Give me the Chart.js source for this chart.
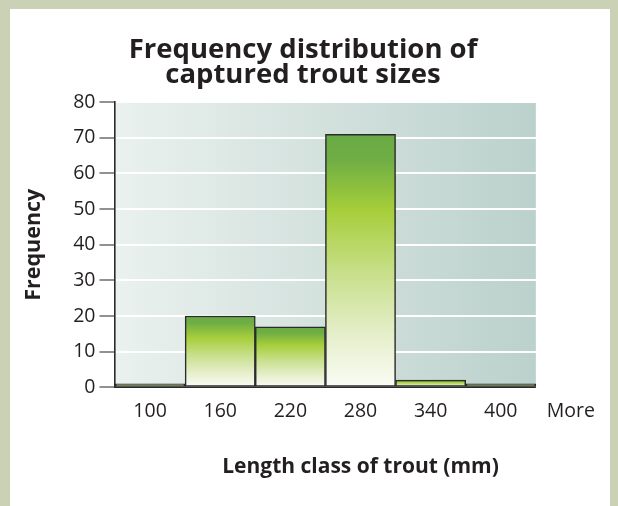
<!DOCTYPE html>
<html>
<head>
<meta charset="utf-8">
<script src="https://cdn.jsdelivr.net/npm/chart.js@4.4.1/dist/chart.umd.min.js"></script>
<style>
  html, body { margin: 0; padding: 0; }
  body { width: 618px; height: 506px; background: #cbd1b5; position: relative; overflow: hidden; }
  #inner { position: absolute; left: 10px; top: 9px; width: 600px; height: 497px; background: #ffffff; }
  #wrap { position: absolute; left: 0; top: 0; width: 618px; height: 506px; }
</style>
</head>
<body>
<div id="inner"></div>
<div id="wrap"><canvas id="c" width="618" height="506"></canvas></div>
<script>
// ---- data ----
const categories = ['100', '160', '220', '280', '340', '400', 'More'];
const frequencies = [1, 20, 17, 71, 2, 1, 0];
const yTicks = [0, 10, 20, 30, 40, 50, 60, 70, 80];
const chartTitle = ['Frequency distribution of', 'captured trout sizes'];
const xTitle = 'Length class of trout (mm)';
const yTitle = 'Frequency';

const TEXT = '#231f20';
const FONT = "'Open Sans', 'Noto Sans', sans-serif";

// number of categories covered by the shaded plot panel (excludes "More")
const panelCats = 6;

function panelRight(chart) {
  const x = chart.scales.x;
  const step = x.getPixelForValue(1) - x.getPixelForValue(0);
  return x.getPixelForValue(panelCats - 1) + step / 2;
}

const panelPlugin = {
  id: 'panel',
  beforeDraw(chart) {
    const { ctx, chartArea: a } = chart;
    const r = panelRight(chart);
    const g = ctx.createLinearGradient(a.left, 0, r, 0);
    g.addColorStop(0, '#eaf1ef');
    g.addColorStop(0.5, '#d3e1dd');
    g.addColorStop(1, '#bbd1cc');
    ctx.save();
    ctx.fillStyle = g;
    ctx.fillRect(a.left, a.top, r - a.left, a.bottom - a.top);
    ctx.restore();
  },
  afterDatasetsDraw(chart) {
    const { ctx, chartArea: a } = chart;
    const r = panelRight(chart);
    const y0 = chart.scales.y.getPixelForValue(0);
    ctx.save();
    ctx.strokeStyle = '#2a2a2a';
    ctx.lineWidth = 1.6;
    ctx.beginPath();
    ctx.moveTo(a.left, y0);
    ctx.lineTo(r, y0);
    ctx.stroke();
    ctx.restore();
  }
};

function barGradient(context) {
  const chart = context.chart;
  const a = chart.chartArea;
  if (!a) return '#a6ce3a';
  const v = context.raw || 0;
  if (!v) return 'rgba(0,0,0,0)';
  const ys = chart.scales.y;
  const top = ys.getPixelForValue(v);
  const bottom = ys.getPixelForValue(0);
  if (bottom - top < 1) return '#6b9a35';
  const g = chart.ctx.createLinearGradient(0, top, 0, bottom);
  g.addColorStop(0, '#69aa45');
  g.addColorStop(0.1, '#6fae44');
  g.addColorStop(0.3, '#a6ce3a');
  g.addColorStop(0.56, '#c9e08e');
  g.addColorStop(0.8, '#e6efcc');
  g.addColorStop(1, '#fafcf5');
  return g;
}

new Chart(document.getElementById('c'), {
  type: 'bar',
  data: {
    labels: categories,
    datasets: [{
      data: frequencies,
      backgroundColor: barGradient,
      borderColor: (ctx) => (ctx.raw ? '#2b2b2b' : 'rgba(0,0,0,0)'),
      borderWidth: (ctx) => (ctx.raw ? 1.5 : 0),
      borderSkipped: false,
      barPercentage: 1,
      categoryPercentage: 1
    }]
  },
  options: {
    responsive: false,
    animation: false,
    events: [],
    layout: { padding: { left: 0, right: 12, top: 0, bottom: 0 } },
    plugins: {
      legend: { display: false },
      tooltip: { enabled: false },
      title: {
        display: true,
        text: chartTitle,
        color: TEXT,
        font: { family: FONT, size: 27.5, weight: '700', lineHeight: 0.93 },
        padding: { top: 37, bottom: 14 }
      }
    },
    scales: {
      x: {
        type: 'category',
        grid: { display: false, drawTicks: false },
        border: { display: false },
        ticks: { color: TEXT, font: { family: FONT, size: 19.5 }, padding: 12, maxRotation: 0, autoSkip: false },
        title: {
          display: true, text: xTitle, color: TEXT,
          font: { family: FONT, size: 21, weight: '700', lineHeight: 1.2 },
          padding: { top: 0, bottom: 26 }
        },
        afterFit(s) { s.height = 506 - 387.3; }
      },
      y: {
        min: 0, max: 80,
        afterBuildTicks(s) { s.ticks = yTicks.map(v => ({ value: v })); },
        grid: {
          color: (ctx) => (ctx.tick && ctx.tick.value === 0 ? 'rgba(0,0,0,0)' : '#ffffff'),
          lineWidth: 2,
          drawTicks: true, tickLength: 15.5, tickColor: '#555555', tickWidth: 1.3
        },
        border: { display: true, color: '#2a2a2a', width: 1.6 },
        ticks: { color: TEXT, font: { family: FONT, size: 19.5 }, padding: 4 },
        title: {
          display: true, text: yTitle, color: TEXT,
          font: { family: FONT, size: 21.5, weight: '700', lineHeight: 1.2 },
          padding: { top: 21, bottom: 0 }
        },
        afterFit(s) { s.width = 115; }
      }
    }
  },
  plugins: [panelPlugin]
});
</script>
</body>
</html>
